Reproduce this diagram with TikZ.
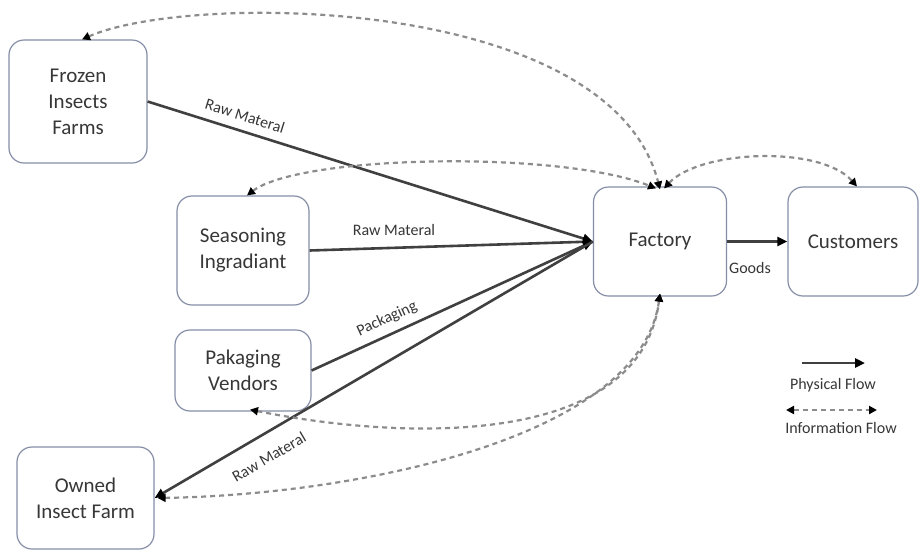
\documentclass[tikz,border=0pt]{standalone}
\usepackage{fontspec}
\setmainfont{Carlito}
\usetikzlibrary{arrows.meta}
\definecolor{boxline}{RGB}{135,142,168}
\definecolor{flowline}{RGB}{64,64,64}
\definecolor{infoline}{RGB}{140,140,140}
\definecolor{txt}{RGB}{55,55,55}
\begin{document}
\begin{tikzpicture}[x=1pt,y=-1pt,
  box/.style={draw=boxline, line width=1.2pt, rounded corners=15pt, fill=white,
    align=center, text=txt, font=\fontsize{21}{26}\selectfont, inner sep=0pt},
  lbl/.style={text=txt, font=\fontsize{16}{19}\selectfont, inner sep=0pt},
  phys/.style={draw=flowline, line width=2.6pt, -{Triangle[length=10pt,width=9pt,color=black]}},
  info/.style={draw=infoline, line width=2.2pt, dash pattern=on 5pt off 4pt,
    {Triangle[length=8pt,width=8pt,color=black]}-{Triangle[length=8pt,width=8pt,color=black]}}
]
\useasboundingbox (0,0) rectangle (919,550);
\fill[white] (0,0) rectangle (919,550);

% boxes
\node[box, minimum width=138pt, minimum height=123pt] (frozen) at (78,101.5) {Frozen\\Insects\\Farms};
\node[box, minimum width=132pt, minimum height=109pt] (season) at (243,250.5) {Seasoning\\Ingradiant};
\node[box, minimum width=136pt, minimum height=81pt] (pak) at (243,370.5) {Pakaging\\Vendors};
\node[box, minimum width=137pt, minimum height=102pt] (owned) at (85.5,498) {Owned\\Insect Farm};
\node[box, minimum width=133pt, minimum height=109pt] (factory) at (660,241.5) {Factory};
\node[box, minimum width=130pt, minimum height=109pt] (cust) at (853,241.5) {Customers};

% physical flows
\draw[phys] (frozen.east) -- (factory.west);
\draw[phys] (season.east) -- (factory.west);
\draw[phys] (pak.east) -- (factory.west);
\draw[phys] (factory.west) -- (owned.east);
\draw[phys] (factory.east) -- (cust.west);

% labels
\node[lbl, rotate=-17.4] (l1) at (245,116) {Raw Materal};
\node[lbl] (l2) at (394,230) {Raw Materal};
\node[lbl, rotate=24.4] (l3) at (387,319) {Packaging};
\node[lbl, rotate=30.2] (l4) at (269,457) {Raw Materal};
\node[lbl] (l5) at (750,268) {Goods};

% information flows
\draw[info] ([xshift=4pt]frozen.north) .. controls (190,-8) and (610,-5) .. ([yshift=-3pt]factory.north);
\draw[info] ([xshift=4pt]season.north) .. controls (300,155) and (560,150) .. ([xshift=-4pt,yshift=-2pt]factory.north);
\draw[info] ([xshift=4pt,yshift=-2pt]factory.north) .. controls (700,150) and (820,145) .. ([xshift=4pt]cust.north);
\draw[info] ([xshift=7pt,yshift=2pt]pak.south) .. controls (400,440) and (640,450) .. ([yshift=3pt]factory.south);
\draw[info] ([xshift=3pt]owned.east) .. controls (350,495) and (640,440) .. ([yshift=3pt]factory.south);

% legend
\coordinate (pa) at (802,363);
\coordinate (pb) at (865,363);
\draw[phys] (pa) -- (pb);
\node[lbl] (lp) at (833,385) {Physical Flow};
\coordinate (ia) at (786,410);
\coordinate (ib) at (877,410);
\draw[info] (ia) -- (ib);
\node[lbl] (li) at (841,428) {Information Flow};
\end{tikzpicture}
\end{document}
